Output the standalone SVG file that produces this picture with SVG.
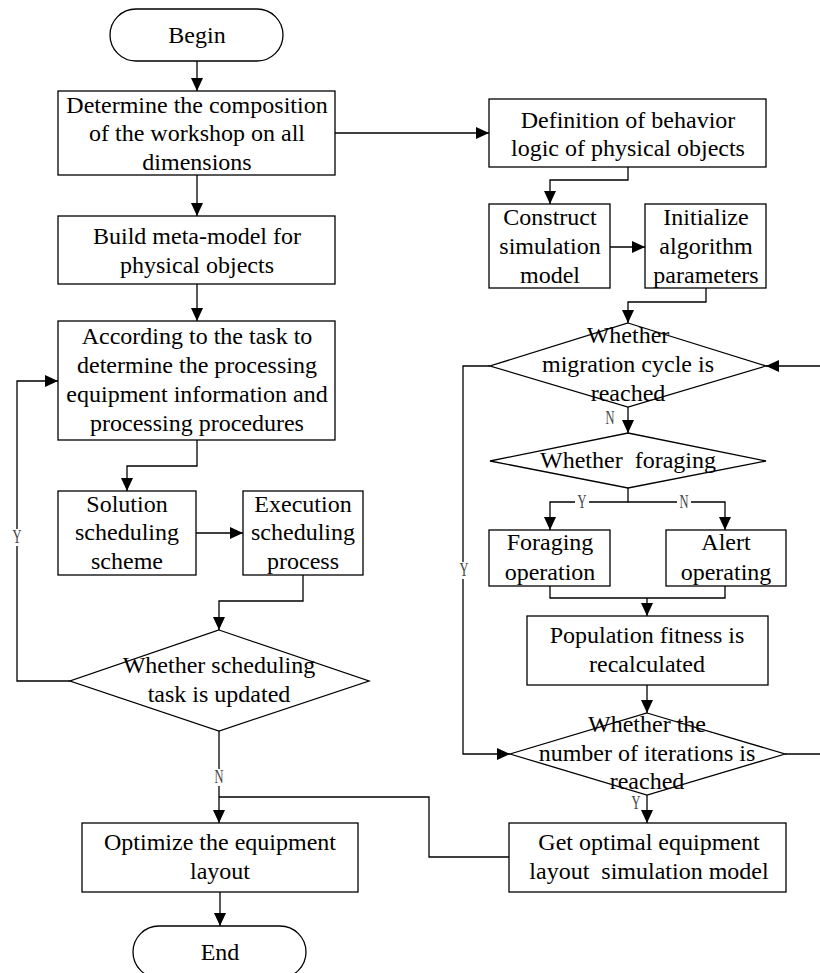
<svg xmlns="http://www.w3.org/2000/svg" width="820" height="973" viewBox="0 0 820 973">
<style>
.n{fill:#fff;stroke:#000;stroke-width:1.3}
.t{font-family:"Liberation Serif","Times New Roman",serif;font-size:24px;fill:#000;text-anchor:middle;white-space:pre}
.c{fill:none;stroke:#000;stroke-width:1.3}
.l{font-family:"Liberation Serif","Times New Roman",serif;font-size:18px;fill:#444;text-anchor:middle}
.bg{fill:#fff;stroke:none}
</style>
<defs>
<marker id="a" markerUnits="userSpaceOnUse" markerWidth="13" markerHeight="12" refX="13" refY="6" orient="auto">
<path d="M0,0 L13,6 L0,12 z" fill="#000"/>
</marker>
</defs>
<g id="connectors">
<path class="c" d="M197,61 V91" marker-end="url(#a)"/>
<path class="c" d="M197,175 V216" marker-end="url(#a)"/>
<path class="c" d="M197,284 V321" marker-end="url(#a)"/>
<path class="c" d="M335,133 H489" marker-end="url(#a)"/>
<path class="c" d="M628,167 V180 H550 V204" marker-end="url(#a)"/>
<path class="c" d="M610,247 H645" marker-end="url(#a)"/>
<path class="c" d="M706,288 V302 H628 V323" marker-end="url(#a)"/>
<path class="c" d="M628,407 V433" marker-end="url(#a)"/>
<path class="c" d="M628,488 V502 H550 V530" marker-end="url(#a)"/>
<path class="c" d="M628,502 H725 V530" marker-end="url(#a)"/>
<path class="c" d="M550,586 V598 H725 V586"/>
<path class="c" d="M647,598 V616" marker-end="url(#a)"/>
<path class="c" d="M647,685 V713" marker-end="url(#a)"/>
<path class="c" d="M647,795 V823" marker-end="url(#a)"/>
<path class="c" d="M785,754 H823 V366 H766" marker-end="url(#a)"/>
<path class="c" d="M490,366 H463 V754 H510" marker-end="url(#a)"/>
<path class="c" d="M197,440 V466 H127 V491" marker-end="url(#a)"/>
<path class="c" d="M196,533 H243" marker-end="url(#a)"/>
<path class="c" d="M303,575 V601 H219 V630" marker-end="url(#a)"/>
<path class="c" d="M70,681 H17 V381 H58" marker-end="url(#a)"/>
<path class="c" d="M219,731 V823" marker-end="url(#a)"/>
<path class="c" d="M509,857 H429 V797 H219"/>
<path class="c" d="M220,892 V926" marker-end="url(#a)"/>
<rect class="bg" x="575" y="494" width="14" height="16"/>
<rect class="bg" x="677" y="494" width="14" height="16"/>
<rect class="bg" x="457" y="562" width="13" height="17"/>
<rect class="bg" x="11" y="529" width="13" height="17"/>
<rect class="bg" x="213" y="769" width="13" height="17"/>
<text class="l" x="610" y="424" textLength="9" lengthAdjust="spacingAndGlyphs">N</text>
<text class="l" x="582" y="508" textLength="9" lengthAdjust="spacingAndGlyphs">Y</text>
<text class="l" x="684" y="508" textLength="9" lengthAdjust="spacingAndGlyphs">N</text>
<text class="l" x="464" y="576" textLength="9" lengthAdjust="spacingAndGlyphs">Y</text>
<text class="l" x="636" y="809" textLength="9" lengthAdjust="spacingAndGlyphs">Y</text>
<text class="l" x="17" y="543" textLength="9" lengthAdjust="spacingAndGlyphs">Y</text>
<text class="l" x="219" y="783" textLength="9" lengthAdjust="spacingAndGlyphs">N</text>
</g>
<g id="begin"><rect class="n" x="110" y="9" width="173" height="52" rx="26"/><text class="t" x="197" y="43">Begin</text></g>
<g id="composition"><rect class="n" x="58" y="91" width="277" height="84"/><text class="t" x="197" y="113">Determine the composition</text><text class="t" x="197" y="141">of the workshop on all</text><text class="t" x="197" y="170">dimensions</text></g>
<g id="metamodel"><rect class="n" x="58" y="216" width="277" height="68"/><text class="t" x="197" y="244">Build meta-model for</text><text class="t" x="197" y="273">physical objects</text></g>
<g id="according"><rect class="n" x="58" y="321" width="277" height="119"/><text class="t" x="197" y="344">According to the task to</text><text class="t" x="197" y="373">determine the processing</text><text class="t" x="197" y="402">equipment information and</text><text class="t" x="197" y="431">processing procedures</text></g>
<g id="solution"><rect class="n" x="58" y="491" width="138" height="84"/><text class="t" x="127" y="512">Solution</text><text class="t" x="127" y="540">scheduling</text><text class="t" x="127" y="569">scheme</text></g>
<g id="execution"><rect class="n" x="243" y="491" width="120" height="84"/><text class="t" x="303" y="512">Execution</text><text class="t" x="303" y="540">scheduling</text><text class="t" x="303" y="569">process</text></g>
<g id="scheduling-decision"><polygon class="n" points="219,630 369,681 219,731 70,681"/><text class="t" x="219" y="673">Whether scheduling</text><text class="t" x="219" y="702">task is updated</text></g>
<g id="optimize"><rect class="n" x="82" y="823" width="276" height="69"/><text class="t" x="220" y="850">Optimize the equipment</text><text class="t" x="220" y="879">layout</text></g>
<g id="end"><rect class="n" x="133" y="926" width="173" height="52" rx="26"/><text class="t" x="220" y="960">End</text></g>
<g id="definition"><rect class="n" x="489" y="99" width="277" height="68"/><text class="t" x="628" y="128">Definition of behavior</text><text class="t" x="628" y="156">logic of physical objects</text></g>
<g id="construct"><rect class="n" x="489" y="204" width="121" height="84"/><text class="t" x="550" y="225">Construct</text><text class="t" x="550" y="254">simulation</text><text class="t" x="550" y="283">model</text></g>
<g id="initialize"><rect class="n" x="645" y="204" width="121" height="84"/><text class="t" x="706" y="225">Initialize</text><text class="t" x="706" y="254">algorithm</text><text class="t" x="706" y="283">parameters</text></g>
<g id="migration-decision"><polygon class="n" points="628,323 766,366 628,407 490,366"/><text class="t" x="628" y="343">Whether</text><text class="t" x="628" y="372">migration cycle is</text><text class="t" x="628" y="401">reached</text></g>
<g id="foraging-decision"><polygon class="n" points="628,433 766,461 628,488 490,461"/><text class="t" x="628" y="468">Whether  foraging</text></g>
<g id="foraging"><rect class="n" x="489" y="530" width="121" height="56"/><text class="t" x="550" y="550">Foraging</text><text class="t" x="550" y="580">operation</text></g>
<g id="alert"><rect class="n" x="666" y="530" width="120" height="56"/><text class="t" x="726" y="550">Alert</text><text class="t" x="726" y="580">operating</text></g>
<g id="population"><rect class="n" x="527" y="616" width="241" height="69"/><text class="t" x="647" y="643">Population fitness is</text><text class="t" x="647" y="672">recalculated</text></g>
<g id="iterations-decision"><polygon class="n" points="647,713 785,754 647,795 510,754"/><text class="t" x="647" y="732">Whether the</text><text class="t" x="647" y="761">number of iterations is</text><text class="t" x="647" y="789">reached</text></g>
<g id="optimal"><rect class="n" x="509" y="823" width="277" height="69"/><text class="t" x="649" y="850">Get optimal equipment</text><text class="t" x="649" y="879">layout  simulation model</text></g>
</svg>
